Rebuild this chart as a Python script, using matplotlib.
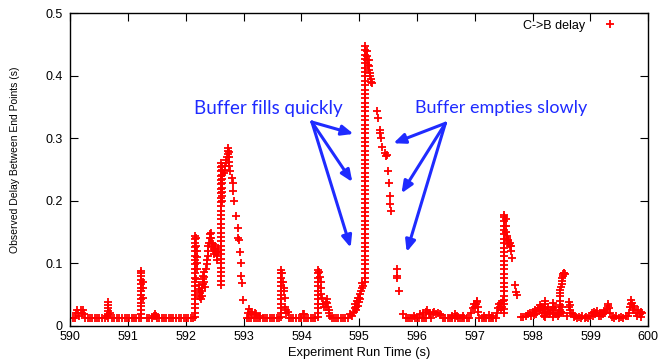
import matplotlib
matplotlib.use('Agg')
import matplotlib.pyplot as plt
import numpy as np

# ---- data ----
base_delay = 0.013  # flat floor of the delay trace
base_t = [590.00, 590.04, 590.30, 590.34, 590.38, 590.42, 590.46, 590.50, 590.55, 590.60,
          590.72, 590.76, 590.80, 590.85, 590.90, 590.94, 590.98, 591.02, 591.06, 591.10,
          591.14, 591.18, 591.32, 591.36, 591.41, 591.50, 591.54, 591.58, 591.62, 591.66,
          591.70, 591.74, 591.78, 591.83, 591.88, 591.92, 591.96, 592.00, 592.04, 592.08,
          592.12, 593.05, 593.09, 593.13, 593.17, 593.21, 593.25, 593.29, 593.33, 593.37,
          593.41, 593.45, 593.49, 593.53, 593.57, 593.61, 593.78, 593.82, 593.86, 593.90,
          593.95, 593.99, 594.00, 594.04, 594.08, 594.12, 594.16, 594.20, 594.24, 594.52,
          594.56, 594.60, 594.64, 594.68, 594.72, 594.76, 594.80, 595.80, 595.84, 595.88,
          595.92, 595.96, 596.00, 596.04, 596.08, 596.12, 596.16, 596.24, 596.45, 596.49,
          596.53, 596.57, 596.61, 596.65, 596.70, 596.74, 596.78, 596.82, 596.86, 596.90,
          597.08, 597.12, 597.16, 597.20, 597.24, 597.28, 597.32, 597.36]

# dense vertical runs: (time, delays)
col_t = [590.66, 591.23, 592.16, 592.60, 592.63, 593.65, 594.29, 595.10, 597.51, 598.22, 598.35]
col_d = [
    [.013, .018, .023, .028, .033, .038],
    [.013, .019, .025, .031, .037, .043, .049, .055, .061, .067, .073, .079, .085, .088],
    [.014, .021, .028, .035, .042, .049, .056, .063, .070, .077, .084, .091, .098, .105,
     .112, .119, .126, .133, .139, .143],
    [.065, .072, .079, .086, .093, .100, .107, .114, .121, .128, .135, .142, .149, .156,
     .163, .170, .177, .184, .191, .198, .205, .212, .219, .226, .233, .240, .247, .254, .260],
    [.200, .207, .214, .221, .228, .235, .242, .249, .256],
    [.014, .021, .028, .035, .042, .049, .056, .063, .070, .077, .084, .089],
    [.014, .021, .028, .035, .042, .049, .056, .063, .070, .077, .084, .089],
    [.070, .077, .084, .091, .098, .105, .112, .119, .126, .133, .140, .147, .154, .161,
     .168, .175, .182, .189, .196, .203, .210, .217, .224, .231, .238, .245, .252, .259,
     .266, .273, .280, .287, .294, .301, .308, .315, .322, .329, .336, .343, .350, .357,
     .364, .371, .378, .385, .392, .399, .406, .413, .420, .427, .434, .441, .447],
    [.020, .027, .034, .041, .048, .055, .062, .069, .076, .083, .090, .097, .104, .111,
     .118, .125, .132, .139, .146, .153, .160, .167, .174, .177],
    [.014, .021, .028, .035, .039],
    [.014, .021, .028, .036],
]

# scattered samples: (time, delay)
pts_590 = [(590.08, .013), (590.10, .020), (590.12, .025), (590.13, .020), (590.15, .016),
           (590.18, .025), (590.20, .020), (590.22, .025), (590.24, .018), (590.26, .013),
           (590.64, .015), (590.69, .020), (591.25, .045), (591.26, .060), (591.26, .070),
           (591.44, .016), (591.46, .019), (591.48, .016)]
pts_592 = [(592.18, .141), (592.18, .128), (592.19, .120), (592.19, .110), (592.20, .100),
           (592.20, .090), (592.18, .075), (592.22, .065), (592.23, .058), (592.24, .052),
           (592.25, .046), (592.26, .042), (592.27, .048), (592.27, .055), (592.28, .060),
           (592.29, .067), (592.29, .074), (592.30, .080), (592.31, .086), (592.31, .078),
           (592.32, .070), (592.33, .062), (592.35, .090), (592.36, .098), (592.37, .105),
           (592.38, .112), (592.38, .120), (592.39, .127), (592.40, .133), (592.41, .140),
           (592.42, .146), (592.43, .148), (592.44, .140), (592.45, .133), (592.46, .126),
           (592.47, .130), (592.48, .122), (592.49, .115), (592.50, .120), (592.51, .128),
           (592.52, .118), (592.53, .112), (592.54, .105), (592.55, .118), (592.56, .125),
           (592.66, .245), (592.67, .250), (592.68, .255), (592.69, .260), (592.70, .265),
           (592.71, .270), (592.72, .275), (592.72, .280), (592.73, .284), (592.74, .278),
           (592.74, .270), (592.75, .262), (592.75, .255), (592.76, .248),
           (592.80, .236), (592.81, .228), (592.82, .215), (592.83, .200), (592.87, .176),
           (592.90, .157), (592.91, .140), (592.92, .137), (592.935, .118), (592.945, .100),
           (592.96, .080), (592.97, .069), (592.99, .041)]
pts_593 = [(593.08, .020), (593.10, .026), (593.12, .022), (593.14, .018), (593.20, .020),
           (593.22, .018), (593.28, .016), (593.67, .085), (593.68, .070), (593.69, .060),
           (593.70, .055), (593.71, .045), (593.72, .030), (593.73, .020), (593.74, .025),
           (593.76, .022)]
pts_594 = [(594.02, .019), (594.05, .018), (594.31, .086), (594.32, .078), (594.33, .070),
           (594.33, .060), (594.34, .050), (594.35, .045), (594.37, .035), (594.39, .030),
           (594.42, .030), (594.43, .038), (594.44, .042), (594.45, .036), (594.46, .030),
           (594.47, .025), (594.48, .020), (594.50, .015), (594.84, .019), (594.88, .015),
           (594.90, .022), (594.92, .028), (594.93, .035), (594.94, .025), (594.95, .030),
           (594.96, .040), (594.97, .032), (594.98, .045), (594.99, .038), (595.00, .045),
           (595.01, .050), (595.02, .042), (595.03, .055), (595.04, .060), (595.05, .068),
           (595.07, .063)]
pts_595 = [(595.13, .440), (595.14, .432), (595.14, .425), (595.15, .418), (595.16, .410),
           (595.16, .425), (595.17, .415), (595.18, .405), (595.19, .400), (595.20, .395),
           (595.21, .390), (595.22, .388), (595.31, .343), (595.32, .333), (595.35, .314),
           (595.36, .308), (595.37, .300), (595.40, .286), (595.44, .276), (595.46, .272),
           (595.48, .274), (595.50, .247), (595.51, .229), (595.53, .207), (595.54, .195),
           (595.55, .184), (595.65, .091), (595.66, .080), (595.66, .076), (595.69, .055),
           (595.75, .019)]
pts_596 = [(595.95, .016), (596.05, .018), (596.10, .020), (596.15, .022), (596.18, .025),
           (596.20, .020), (596.22, .018), (596.28, .020), (596.30, .022), (596.33, .018),
           (596.36, .021), (596.39, .019), (596.42, .017), (596.60, .016), (596.66, .019),
           (596.69, .016), (596.80, .015), (596.94, .020), (596.96, .028), (596.98, .035),
           (597.00, .030), (597.02, .034), (597.03, .040), (597.04, .038), (597.05, .030),
           (597.06, .022), (597.15, .016), (597.25, .017), (597.30, .015), (597.38, .020),
           (597.40, .028), (597.42, .035), (597.43, .030), (597.45, .025), (597.46, .036),
           (597.47, .030), (597.48, .040), (597.53, .170), (597.53, .160), (597.54, .150),
           (597.55, .143), (597.56, .140), (597.57, .137), (597.58, .135), (597.59, .130),
           (597.60, .128), (597.61, .132), (597.62, .127), (597.63, .120), (597.65, .108),
           (597.70, .065), (597.72, .054), (597.73, .049)]
pts_598 = [(597.80, .014), (597.84, .014), (597.88, .016), (597.92, .018), (597.95, .020),
           (597.97, .015), (598.00, .022), (598.02, .017), (598.04, .025), (598.06, .019),
           (598.08, .023), (598.10, .028), (598.12, .033), (598.13, .025), (598.15, .030),
           (598.16, .020), (598.18, .027), (598.19, .015), (598.24, .022), (598.26, .030),
           (598.28, .018), (598.30, .020), (598.31, .025), (598.37, .020), (598.39, .030),
           (598.41, .018), (598.43, .020), (598.44, .015), (598.45, .018), (598.46, .025),
           (598.465, .033), (598.47, .040), (598.47, .047), (598.48, .052), (598.48, .057),
           (598.49, .062), (598.50, .066), (598.50, .071), (598.51, .076), (598.52, .079),
           (598.53, .082), (598.54, .084), (598.55, .085), (598.56, .082), (598.50, .030),
           (598.49, .022), (598.52, .020), (598.60, .015), (598.62, .030), (598.63, .038),
           (598.64, .033), (598.65, .025), (598.67, .020), (598.69, .018), (598.71, .014),
           (598.74, .016), (598.77, .013), (598.80, .014), (598.83, .013), (598.86, .015),
           (598.90, .013), (598.93, .014), (598.96, .013), (598.99, .016)]
pts_599 = [(599.02, .020), (599.04, .016), (599.06, .022), (599.08, .018), (599.10, .020),
           (599.12, .024), (599.14, .016), (599.16, .020), (599.18, .015), (599.20, .020),
           (599.22, .018), (599.24, .023), (599.26, .020), (599.28, .027), (599.30, .031),
           (599.31, .035), (599.32, .028), (599.34, .020), (599.37, .014), (599.41, .013),
           (599.45, .015), (599.49, .013), (599.53, .014), (599.57, .013), (599.61, .015),
           (599.65, .016), (599.67, .020), (599.69, .030), (599.70, .041), (599.71, .035),
           (599.72, .037), (599.73, .028), (599.75, .032), (599.76, .025), (599.78, .020),
           (599.80, .016), (599.83, .025), (599.85, .018), (599.87, .022), (599.88, .014),
           (599.89, .020)]

# annotations: label, text position, arrow targets
fills_label = 'Buffer fills quickly'
fills_text = (593.42, 0.348)
fills_from = (594.18, 0.326)
fills_to = [(594.90, 0.307), (594.88, 0.230), (594.85, 0.125)]
empties_label = 'Buffer empties slowly'
empties_text = (597.45, 0.348)
empties_from = (596.49, 0.324)
empties_to = [(595.59, 0.292), (595.73, 0.212), (595.82, 0.118)]

x_ticks = list(range(590, 601))
y_ticks = [0, 0.1, 0.2, 0.3, 0.4, 0.5]
y_tick_labels = ['0', '0.1', '0.2', '0.3', '0.4', '0.5']

# ---- assemble ----
t_all = list(base_t)
d_all = [base_delay] * len(base_t)
for t, ds in zip(col_t, col_d):
    t_all += [t] * len(ds)
    d_all += ds
for pts in (pts_590, pts_592, pts_593, pts_594, pts_595, pts_596, pts_598, pts_599):
    t_all += [p[0] for p in pts]
    d_all += [p[1] for p in pts]

plt.rcParams['font.family'] = ['Liberation Sans', 'DejaVu Sans']

fig = plt.figure(figsize=(6.59, 3.60), dpi=100)
ax = fig.add_axes([0.1067, 0.0953, 0.877, 0.8677])

RED = '#ff0000'
BLUE = '#1f2bff'

ax.plot(t_all, d_all, linestyle='none', marker='+', ms=5.5, mew=1.3, color=RED,
        label='C->B delay')

ax.set_xlim(590, 600)
ax.set_ylim(0, 0.5)
ax.set_xticks(x_ticks)
ax.set_xticklabels([str(x) for x in x_ticks])
ax.set_yticks(y_ticks)
ax.set_yticklabels(y_tick_labels)
ax.tick_params(direction='in', length=6, width=0.8, top=True, right=True, labelsize=9)
ax.tick_params(axis='x', pad=4)
ax.tick_params(axis='y', pad=5.5)
for s in ax.spines.values():
    s.set_linewidth(1.0)

ax.set_xlabel('Experiment Run Time (s)', fontsize=9.3, labelpad=3)
ax.set_ylabel('Observed Delay Between End Points (s)', fontsize=7.5)
ax.yaxis.set_label_coords(-0.087, 0.53)

ax.legend(loc='upper right', bbox_to_anchor=(0.958, 1.0), frameon=False,
          markerfirst=False, fontsize=9, handlelength=1.2, handletextpad=1.4,
          borderaxespad=0.1)

# annotation text and arrows
ax.text(*fills_text, fills_label, color=BLUE, fontsize=13.5, family='Lato',
        ha='center', va='center')
ax.text(*empties_text, empties_label, color=BLUE, fontsize=13, family='Lato',
        ha='center', va='center')
for tgt in fills_to:
    ax.annotate('', xy=tgt, xytext=fills_from,
                arrowprops=dict(arrowstyle='-|>,head_length=0.7,head_width=0.3',
                                color=BLUE, lw=2.2, shrinkA=0, shrinkB=0))
for tgt in empties_to:
    ax.annotate('', xy=tgt, xytext=empties_from,
                arrowprops=dict(arrowstyle='-|>,head_length=0.7,head_width=0.3',
                                color=BLUE, lw=2.2, shrinkA=0, shrinkB=0))

fig.savefig('out.png', dpi=100)
